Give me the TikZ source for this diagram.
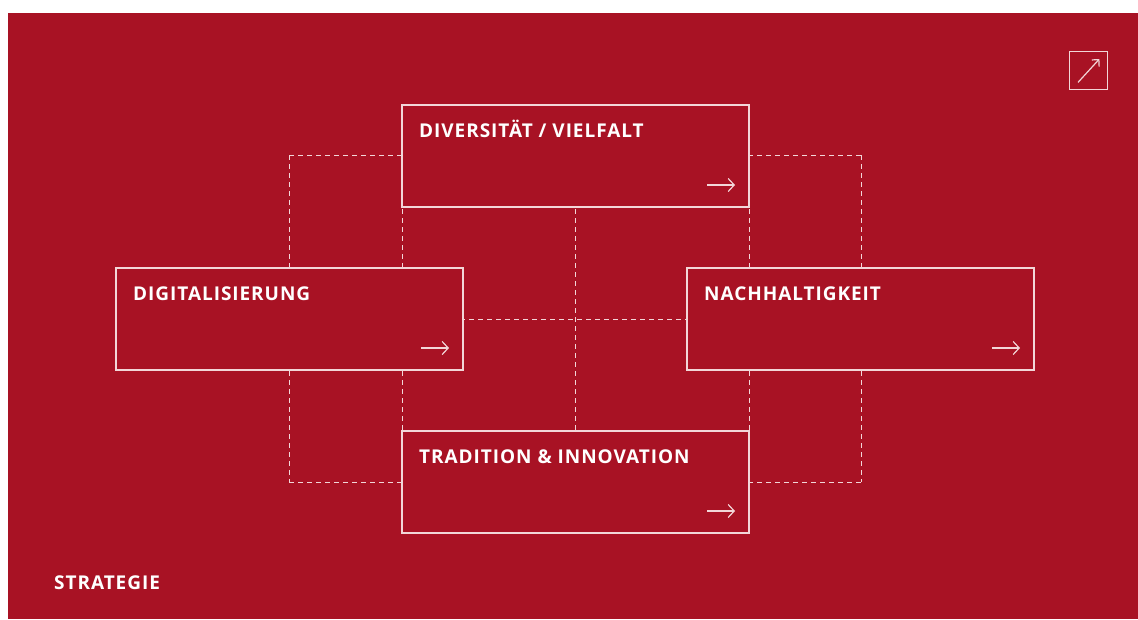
\documentclass[tikz,border=0pt]{standalone}
\usepackage{fontspec}
\setmainfont{Open Sans}[LetterSpace=5]
\usetikzlibrary{arrows.meta,calc}
\definecolor{brandred}{HTML}{A81224}
\definecolor{linepink}{HTML}{F2D6D8}
\begin{document}
\begin{tikzpicture}[x=1pt,y=-1pt,
  topic/.style={draw=linepink,line width=1.4pt,fill=brandred,anchor=north west,
    minimum width=347pt,minimum height=102pt,inner sep=0pt,outer sep=0pt},
  topiclabel/.style={anchor=base west,inner sep=0pt,text=white,
    font=\fontsize{19pt}{22pt}\selectfont\bfseries},
  grid/.style={draw=linepink,line width=0.9pt,dash pattern=on 5pt off 4pt},
  go/.style={draw=linepink,line width=1.2pt,-{Straight Barb[length=6pt,width=13pt,line width=1.2pt]}}]
  \useasboundingbox (0,0) rectangle (1138,619);
  \fill[white] (0,0) rectangle (1138,619);
  \fill[brandred] (8,13) rectangle (1138,619);

  % dashed guide grid behind the topic boxes
  \foreach \gx in {289,402,575,749,861}
    \draw[grid] (\gx,155) -- (\gx,482);
  \foreach \gy in {155,319,482}
    \draw[grid] (289,\gy) -- (861,\gy);

  % topic boxes
  \node[topic] (div) at (402,105) {};
  \node[topic] (dig) at (116,268) {};
  \node[topic] (nach) at (687,268) {};
  \node[topic] (trad) at (402,431) {};

  \foreach \b/\t in {div/{DIVERSITÄT / VIELFALT},dig/DIGITALISIERUNG,nach/NACHHALTIGKEIT,trad/{TRADITION \& INNOVATION}}{
    \node[topiclabel] (\b-label) at ($(\b.north west)+(17,32)$) {\t};
    \coordinate (\b-go-a) at ($(\b.south east)+(-42,-22)$);
    \coordinate (\b-go-b) at ($(\b.south east)+(-14,-22)$);
    \draw[go] (\b-go-a) -- (\b-go-b);
  }

  % external link icon
  \node[draw=linepink,line width=1.4pt,minimum size=38pt,inner sep=0pt,anchor=north west] (ext) at (1069,51) {};
  \coordinate (ext-a) at ($(ext.south west)+(9,-8)$);
  \coordinate (ext-b) at ($(ext.north east)+(-9,8)$);
  \draw[go,-{Straight Barb[length=5pt,width=10pt,line width=1.2pt]}] (ext-a) -- (ext-b);

  % section title
  \node[topiclabel,anchor=base west] (title) at (54,589) {STRATEGIE};
\end{tikzpicture}
\end{document}
